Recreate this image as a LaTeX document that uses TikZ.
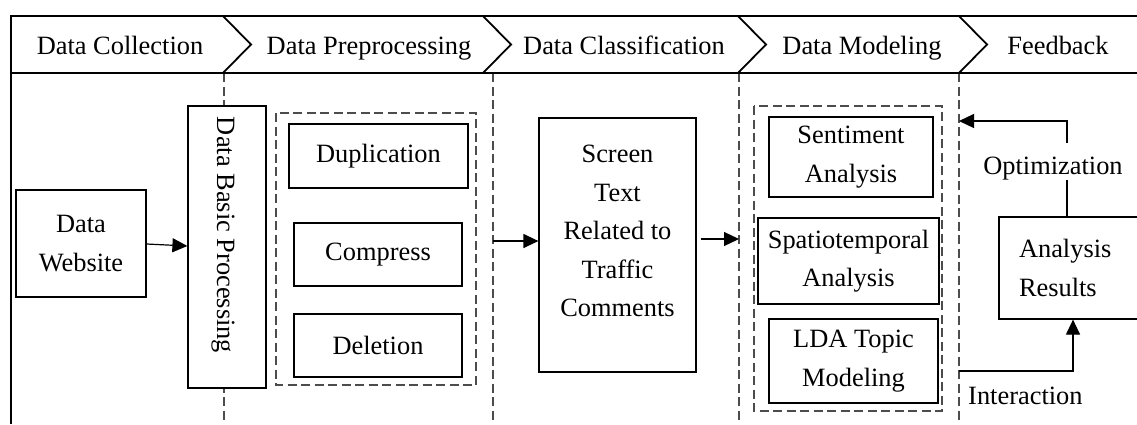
\documentclass[tikz,border=0pt]{standalone}
\usepackage{fontspec}
\setmainfont{Liberation Serif}
\usetikzlibrary{arrows.meta}
\begin{document}
\begin{tikzpicture}[x=1pt,y=-1pt,
  every node/.style={font=\fontsize{26.4}{38.5}\selectfont},
  frame/.style={line width=2pt},
  chev/.style={line width=1.8pt, line join=miter},
  lane/.style={draw=black!70, dash pattern=on 9pt off 4.5pt, line width=1.2pt},
  grp/.style={draw=black!70, dash pattern=on 9pt off 4.5pt, line width=1.2pt},
  box/.style={draw, line width=1.2pt, fill=white, inner sep=0pt, align=center},
  txt/.style={inner sep=0pt, align=center},
  head/.style={inner sep=0pt, anchor=base},
  link/.style={line width=1.2pt, -{Triangle[length=15pt,width=14pt]}},
  plain/.style={line width=1.2pt}]

\clip (0,0) rectangle (1137,424);
\fill[white] (0,0) rectangle (1137,424);

% swimlane separators
\draw[lane] (224,73) -- (224,424);
\draw[lane] (493,73) -- (493,424);
\draw[lane] (739,73) -- (739,424);
\draw[lane] (959,73) -- (959,424);

% header band with chevrons
\draw[frame] (1137,16) -- (11,16) -- (11,424);
\draw[frame] (11,73) -- (1137,73);
\foreach \b in {223,483,738,959}
  \draw[chev] (\b,16) -- (\b+28,44.5) -- (\b,73);

\node[head] (h1) at (120,54) {Data Collection};
\node[head] (h2) at (369,54) {Data Preprocessing};
\node[head] (h3) at (624,54) {Data Classification};
\node[head] (h4) at (862,54) {Data Modeling};
\node[head] (h5) at (1058,54) {Feedback};

% data collection
\node[box, minimum width=130, minimum height=107] (web) at (81,243.5) {Data\\Website};

% preprocessing
\node[box, minimum width=78, minimum height=282] (basic) at (227,247) {};
\node[txt, rotate=-90] (basictext) at (223,235) {Data Basic Processing};
\draw[grp] (276,113) rectangle (476,385);
\node[box, minimum width=179, minimum height=64] (dup) at (378.5,156) {Duplication};
\node[box, minimum width=168, minimum height=63] (comp) at (378,254.5) {Compress};
\node[box, minimum width=168, minimum height=63] (del) at (378,345.5) {Deletion};

% classification
\node[box, minimum width=157, minimum height=254] (screen) at (617.5,245) {};
\node[txt] (screentext) at (617.5,231) {Screen\\Text\\Related to\\Traffic\\Comments};

% modeling
\draw[grp] (754,106) rectangle (942,411);
\node[box, minimum width=164, minimum height=80] (senti) at (851,157) {Sentiment\\Analysis};
\node[box, minimum width=181, minimum height=86] (spat) at (848.5,261) {Spatiotemporal\\Analysis};
\node[box, minimum width=169, minimum height=84] (lda) at (853.5,361) {LDA Topic\\Modeling};

% feedback
\node[box, minimum width=142, minimum height=102, text width=102pt, inner xsep=20pt, align=left] (res) at (1070,268) {Analysis\\Results};
\node[head, anchor=base] (opt) at (1053,174) {Optimization};
\node[head, anchor=base west] (inter) at (968,404) {Interaction};

% connectors
\coordinate (in3) at (493,241);
\coordinate (in4) at (739,239);
\coordinate (fbtop) at (959,121);
\coordinate (fbbot) at (959,371);

\draw[link] (web.east |- 0,244) -- (basic.west |- 0,246);
\draw[link] (in3) -- (screen.west |- in3);
\draw[link] ([xshift=4pt]screen.east |- in4) -- (in4);
\draw[plain] ([xshift=-3pt]res.north) -- ([xshift=-3pt]res.north |- opt.south);
\draw[link] ([xshift=-3pt]res.north |- 0,143) |- (fbtop);
\draw[link] (fbbot) -| ([xshift=3pt]res.south);
\end{tikzpicture}
\end{document}
